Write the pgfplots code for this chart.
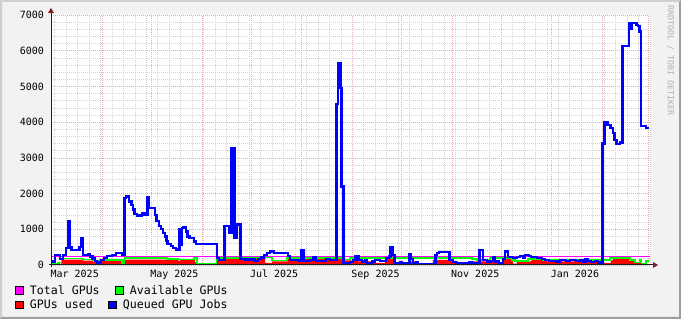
\documentclass[border=0pt]{standalone}
\usepackage{pgfplots}
\pgfplotsset{compat=1.18}
\usepackage{fontspec}
\newfontfamily\rrdmono{DejaVu Sans Mono}
\newcommand\axisfont{\rrdmono\fontsize{10}{12}\selectfont}
\newcommand\legfont{\rrdmono\fontsize{11.6}{13}\selectfont}
\newcommand\wmfont{\rrdmono\fontsize{8.3}{10}\selectfont}
\definecolor{rrdback}{HTML}{F2F2F2}
\definecolor{shadea}{HTML}{CFCFCF}
\definecolor{shadeb}{HTML}{9E9E9E}
\definecolor{mgrid}{HTML}{EFA8A8}
\definecolor{mingrid}{HTML}{D4D4D4}
\definecolor{rrdarrow}{HTML}{801F1F}
\definecolor{rrdaxis}{HTML}{1F1F1F}
\definecolor{cTotal}{HTML}{FF00FF}
\definecolor{cAvail}{HTML}{00FF00}
\definecolor{cUsed}{HTML}{FF0000}
\definecolor{cQueue}{HTML}{0000FF}
\definecolor{wmgray}{HTML}{B0B0B0}
\begin{document}
\begin{tikzpicture}
\useasboundingbox (0pt,0pt) rectangle (681pt,319pt);
\fill[rrdback] (0pt,0pt) rectangle (681pt,319pt);
\fill[shadea] (0pt,0pt) -- (0pt,319pt) -- (681pt,319pt) -- (679pt,317pt) -- (2pt,317pt) -- (2pt,2pt) -- cycle;
\fill[shadeb] (0pt,0pt) -- (681pt,0pt) -- (681pt,319pt) -- (679pt,317pt) -- (679pt,2pt) -- (2pt,2pt) -- cycle;
\begin{axis}[
  at={(51pt,54pt)}, anchor=south west,
  scale only axis, width=600pt, height=250pt,
  xmin=-0.3, xmax=366.7, ymin=0, ymax=7000,
  axis line style={draw=none},
  axis background/.style={fill=white},
  major tick length=0pt, minor tick length=0pt,
  xtick={0,31,61,92,122,153,184,214,245,275,306,337,365},
  xticklabels={,,,,,,,,,,,,},
  minor xtick={2,9,...,366},
  extra x ticks={14.2,75.2,136.2,198.2,259.2,320.2},
  extra x tick labels={Mar 2025,May 2025,Jul 2025,Sep 2025,Nov 2025,Jan 2026},
  extra x tick style={grid=none},
  ytick={0,1000,2000,3000,4000,5000,6000,7000},
  yticklabels={0,1000,2000,3000,4000,5000,6000,7000},
  minor ytick={200,400,...,6800},
  xticklabel style={font=\axisfont, anchor=north, inner sep=0pt, yshift=-5pt},
  yticklabel style={font=\axisfont, anchor=east, inner sep=0pt, xshift=-6.8pt},
  grid=both,
  major grid style={draw=mgrid, line width=0.7pt, dash pattern=on 1pt off 1pt},
  minor grid style={draw=mingrid, line width=0.7pt, dash pattern=on 1pt off 1pt},
]
% GPUs used (area)
\addplot[fill=cUsed, draw=none, const plot] coordinates {
(-0.3,0) (3.4,70) (5.2,30) (6.1,150) (19.3,120) (25.4,90) (29.7,130) (43.1,30) (44.0,150)
(70.3,170) (77.7,110) (78.6,140) (87.8,70) (89.6,15) (100.9,170) (111.0,190) (130.6,60)
(134.9,100) (144.6,165) (178.3,130) (184.4,165) (187.5,100) (197.9,60) (204.0,165) (208.9,60)
(218.0,100) (224.2,35) (233.3,140) (244.6,100) (248.6,35) (257.2,100) (269.1,120) (274.3,35)
(276.1,165) (282.3,35) (284.7,100) (293.6,165) (300.6,140) (303.0,100) (307.9,140) (312.2,100)
(335.5,60) (342.2,130) (343.4,165) (353.8,120) (356.9,60) (359.9,120) (360.8,15) (363.0,100)
(363.9,15) (365.4,15)
} \closedcycle;
% Available GPUs
\addplot[cAvail, line width=1.5pt, const plot] coordinates {
(-0.3,25) (4.0,70) (6.1,185) (19.3,155) (25.4,125) (29.7,145) (43.1,45) (44.6,195)
(70.6,165) (77.7,150) (87.2,200) (89.0,30) (100.9,150) (102.4,195) (130.6,215) (134.9,120)
(144.0,195) (178.3,150) (182.6,195) (257.2,165) (260.2,145) (268.2,195) (281.6,145)
(283.5,115) (291.4,165) (300.6,135) (335.5,160) (337.3,135) (341.6,195) (353.8,135)
(356.9,70) (359.9,135) (360.8,30) (363.6,115) (365.4,115)
};
% Total GPUs
\addplot[cTotal, line width=1.4pt] coordinates {(-0.3,245) (366,245)};
% Queued GPU Jobs
\addplot[cQueue, line width=2.3pt, const plot] coordinates {
(-0.3,100) (2.1,280) (5.2,170) (7.0,280) (8.9,470) (10.4,1230) (11.3,510) (12.2,420)
(17.1,500) (18.0,750) (19.3,280) (22.3,300) (23.5,240) (25.1,180) (26.6,110) (27.8,70)
(30.3,140) (32.1,200) (33.9,250) (37.0,280) (39.4,330) (43.1,280) (44.6,1870) (45.6,1920)
(47.4,1780) (48.9,1680) (49.8,1550) (50.8,1430) (52.3,1390) (55.3,1440) (56.9,1410)
(58.7,1890) (59.6,1600) (63.3,1400) (64.2,1230) (65.7,1100) (67.0,1000) (68.2,900)
(69.4,800) (70.3,680) (70.9,580) (73.1,540) (74.3,480) (76.1,430) (78.3,1000) (79.2,560)
(79.8,1030) (80.7,1060) (82.3,940) (83.2,800) (84.4,750) (87.2,660) (88.4,580)
(101.2,200) (102.4,140) (105.8,1100) (108.6,900) (110.1,3270) (111.9,750) (113.1,1130)
(115.6,170) (118.3,150) (124.5,110) (126.3,170) (128.1,210) (130.0,280) (131.8,330)
(133.6,380) (134.9,400) (136.1,330) (141.6,345) (144.6,250) (145.9,140) (151.4,110)
(152.6,420) (154.1,120) (158.1,140) (160.2,210) (161.8,120) (167.9,170) (170.3,140)
(174.3,4500) (175.2,5650) (176.8,4950) (177.4,2200) (178.6,60) (182.6,90) (184.4,140)
(185.9,240) (187.8,140) (189.9,100) (191.7,130) (193.0,50) (196.0,100) (197.9,140)
(200.9,120) (204.6,200) (206.4,240) (207.3,490) (208.9,280) (209.8,50) (213.1,90)
(214.4,50) (219.0,310) (219.9,170) (221.1,50) (223.0,90) (224.2,30) (234.9,280)
(235.8,330) (237.0,360) (243.4,140) (245.6,90) (247.4,40) (255.6,90) (257.2,40)
(261.8,420) (263.9,140) (266.4,100) (268.8,120) (270.0,210) (271.3,100) (273.7,60)
(276.1,170) (277.4,380) (279.2,230) (282.3,190) (284.7,230) (286.5,260) (288.4,200)
(289.6,280) (292.0,250) (293.3,230) (296.9,200) (300.0,170) (301.8,140) (304.3,110)
(308.6,100) (311.0,140) (314.7,120) (317.1,140) (320.8,120) (323.2,130) (325.1,100)
(326.6,170) (328.1,120) (330.0,80) (332.4,120) (334.2,70) (335.8,20) (337.0,3400)
(338.2,4010) (340.0,3920) (341.9,3830) (343.4,3690) (344.3,3500) (345.6,3390)
(347.7,3430) (349.2,6130) (353.2,6770) (353.8,6600) (354.7,6770) (357.8,6720)
(358.7,6690) (359.6,6540) (360.5,3890) (363.6,3830) (365.4,3830)
};
\end{axis}
% axes with arrows
\draw[rrdaxis, line width=1pt] (49pt,54pt) -- (654pt,54pt);
\fill[rrdarrow] (653pt,57pt) -- (658pt,54pt) -- (653pt,51pt) -- cycle;
\draw[rrdaxis, line width=1pt] (51pt,52pt) -- (51pt,307pt);
\fill[rrdarrow] (48pt,306pt) -- (51pt,311pt) -- (54pt,306pt) -- cycle;
% watermark
\node[wmgray, font=\wmfont, rotate=-90, anchor=west, inner sep=0pt] at (670.5pt,314pt) {RRDTOOL / TOBI OETIKER};
% legend
\filldraw[fill=cTotal, draw=black, line width=0.8pt] (15.5pt,24.9pt) rectangle (23.3pt,32.7pt);
\node[anchor=base west, inner sep=0pt, font=\legfont] at (29.7pt,24.7pt) {Total GPUs};
\filldraw[fill=cAvail, draw=black, line width=0.8pt] (115.5pt,24.9pt) rectangle (123.3pt,32.7pt);
\node[anchor=base west, inner sep=0pt, font=\legfont] at (129.7pt,24.7pt) {Available GPUs};
\filldraw[fill=cUsed, draw=black, line width=0.8pt] (15.5pt,10.2pt) rectangle (23.3pt,18pt);
\node[anchor=base west, inner sep=0pt, font=\legfont] at (29.7pt,10pt) {GPUs used};
\filldraw[fill=cQueue, draw=black, line width=0.8pt] (108.7pt,10.2pt) rectangle (116.5pt,18pt);
\node[anchor=base west, inner sep=0pt, font=\legfont] at (122.7pt,10pt) {Queued GPU Jobs};
\end{tikzpicture}
\end{document}
